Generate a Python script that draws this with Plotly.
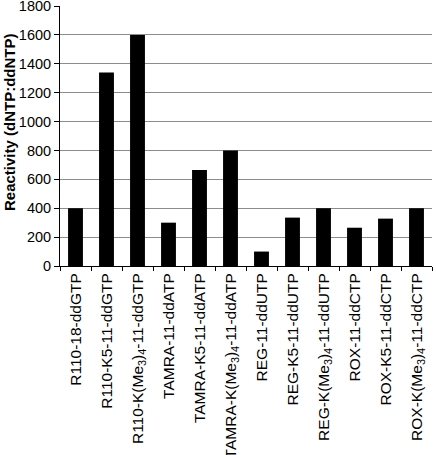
import plotly.graph_objects as go

categories = [
    "R110-18-ddGTP",
    "R110-K5-11-ddGTP",
    "R110-K(Me<sub>3</sub>)<sub>4</sub>-11-ddGTP",
    "TAMRA-11-ddATP",
    "TAMRA-K5-11-ddATP",
    "TAMRA-K(Me<sub>3</sub>)<sub>4</sub>-11-ddATP",
    "REG-11-ddUTP",
    "REG-K5-11-ddUTP",
    "REG-K(Me<sub>3</sub>)<sub>4</sub>-11-ddUTP",
    "ROX-11-ddCTP",
    "ROX-K5-11-ddCTP",
    "ROX-K(Me<sub>3</sub>)<sub>4</sub>-11-ddCTP",
]
reactivity = [400, 1340, 1600, 300, 665, 800, 100, 335, 400, 265, 328, 400]
y_ticks = [0, 200, 400, 600, 800, 1000, 1200, 1400, 1600, 1800]
y_title = "<b>Reactivity (dNTP:ddNTP)</b>"

fig = go.Figure(
    go.Bar(
        x=categories,
        y=reactivity,
        marker=dict(color="black", line=dict(width=0)),
        width=0.48,
    )
)

fig.update_layout(
    width=436,
    height=455,
    margin=dict(l=60, r=4, t=6, b=189, autoexpand=False),
    paper_bgcolor="white",
    plot_bgcolor="white",
    font=dict(family="Liberation Sans, Arial, sans-serif", size=14, color="black"),
    showlegend=False,
)

fig.update_xaxes(
    tickangle=-90,
    showline=True,
    linecolor="black",
    linewidth=1,
    ticks="outside",
    tickson="boundaries",
    ticklen=4,
    tickcolor="black",
    showgrid=False,
    automargin=False,
    tickfont=dict(size=15.5),
)

fig.update_yaxes(
    range=[0, 1800],
    tickvals=y_ticks,
    showline=True,
    linecolor="black",
    linewidth=1,
    ticks="outside",
    ticklen=5,
    tickcolor="black",
    showgrid=True,
    gridcolor="#8c8c8c",
    gridwidth=1,
    zeroline=False,
    automargin=False,
    ticklabeloverflow="allow",
    tickfont=dict(size=14.5),
)

fig.add_annotation(
    text=y_title,
    xref="paper",
    yref="paper",
    x=(10 - 60) / 372,
    y=(266 - 122) / 260,
    xanchor="center",
    yanchor="middle",
    textangle=-90,
    showarrow=False,
    font=dict(size=15),
)

fig.write_html(
    "out.html",
    config={"displayModeBar": False},
    post_script="document.body.style.margin='0';document.body.style.overflow='hidden';",
)
